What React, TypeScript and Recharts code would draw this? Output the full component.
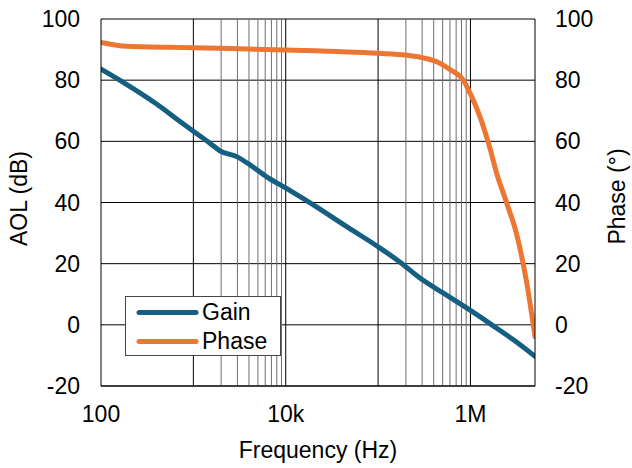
import React from 'react';
import { LineChart, Line, XAxis, YAxis, CartesianGrid, ReferenceLine } from 'recharts';

const FREQ_TICKS = [100, 10000, 1000000];
const FREQ_TICK_LABELS = ['100', '10k', '1M'];
const Y_TICKS = [-20, 0, 20, 40, 60, 80, 100];

const GAIN_FREQ = [100, 174, 400, 717, 1000, 1510, 1940, 2950, 4110, 6230, 10200, 19900, 45800, 105000, 173000, 284000, 500000, 711000, 1000000, 1700000, 2920000, 5000000];
const GAIN_DB = [83.6, 79.3, 72.2, 66.5, 63.3, 59.4, 56.9, 55.0, 52.3, 48.4, 44.6, 39.2, 32.1, 25.1, 20.5, 15.3, 10.5, 7.6, 4.7, 0, -4.9, -10.3];

const PHASE_FREQ = [100, 170, 1000, 10000, 100000, 200000, 310000, 450000, 600000, 837000, 1000000, 1270000, 1630000, 1930000, 2470000, 3170000, 4070000, 5000000];
const PHASE_DEG = [92.3, 91.2, 90.6, 89.9, 88.8, 88.2, 87.3, 85.8, 83.5, 80.0, 75.5, 68.0, 57.6, 49.4, 39.8, 29.5, 13.7, -3.9];

const MAJOR_GRID = [1000, 10000, 100000, 1000000];
const MINOR_GRID = [2000, 3000, 4000, 5000, 6000, 7000, 8000, 9000, 200000, 300000, 400000, 500000, 600000, 700000, 800000, 900000];

const SERIES_NAMES = ['Gain', 'Phase'];
const SERIES_COLORS = ['#155F82', '#EE7633'];

const gainData = GAIN_FREQ.map((f, i) => ({ f, v: GAIN_DB[i] }));
const phaseData = PHASE_FREQ.map((f, i) => ({ f, v: PHASE_DEG[i] }));

const FONT = '"Liberation Sans", Arial, sans-serif';

const AxisTitle = (props: any) => {
  const { viewBox, text, dxc, dyc } = props;
  const cx = viewBox.x + dxc;
  const cy = viewBox.y + viewBox.height / 2 + dyc;
  return (
    <text x={cx} y={cy} transform={`rotate(-90, ${cx}, ${cy})`} textAnchor="middle" dominantBaseline="central" fontSize={23} fontFamily={FONT} fill="#000">
      {text}
    </text>
  );
};

const XTitle = (props: any) => {
  const { viewBox, text } = props;
  const cx = viewBox.x + viewBox.width / 2;
  return (
    <text x={cx} y={viewBox.y + 72} textAnchor="middle" fontSize={23} fontFamily={FONT} fill="#000">
      {text}
    </text>
  );
};

export default function App() {
  const tickStyle = { fontSize: 23, fontFamily: FONT, fill: '#000' };
  return (
    <div style={{ position: 'absolute', left: 0, top: 0, width: 632, height: 468, background: '#fff' }}>
      <LineChart width={632} height={468} margin={{ top: 19, right: 0, bottom: 0, left: 0 }}>
        <CartesianGrid yAxisId="left" vertical={false} stroke="#000" strokeWidth={1} />
        {MINOR_GRID.map((x) => (
          <ReferenceLine key={'m' + x} yAxisId="left" x={x} stroke="#6e6e6e" strokeWidth={1} />
        ))}
        {MAJOR_GRID.map((x) => (
          <ReferenceLine key={'M' + x} yAxisId="left" x={x} stroke="#000" strokeWidth={1} />
        ))}
        <XAxis
          dataKey="f"
          type="number"
          scale="log"
          domain={[100, 5000000]}
          allowDataOverflow
          ticks={FREQ_TICKS}
          tickFormatter={(v: number) => FREQ_TICK_LABELS[FREQ_TICKS.indexOf(v)] ?? ''}
          height={82}
          tickLine={false}
          tickSize={0}
          tickMargin={20}
          axisLine={{ stroke: '#000' }}
          tick={tickStyle}
          interval={0}
          label={<XTitle text="Frequency (Hz)" />}
        />
        <YAxis
          yAxisId="left"
          orientation="left"
          type="number"
          domain={[-20, 100]}
          ticks={Y_TICKS}
          width={101}
          tickLine={false}
          tickSize={0}
          tickMargin={21}
          axisLine={{ stroke: '#000' }}
          tick={tickStyle}
          interval={0}
          label={<AxisTitle text="AOL (dB)" dxc={19} dyc={-4} />}
        />
        <YAxis
          yAxisId="right"
          orientation="right"
          type="number"
          domain={[-20, 100]}
          ticks={Y_TICKS}
          width={97}
          tickLine={false}
          tickSize={0}
          tickMargin={20}
          axisLine={{ stroke: '#000' }}
          tick={tickStyle}
          interval={0}
          label={<AxisTitle text="Phase (°)" dxc={82} dyc={-6} />}
        />
        <Line yAxisId="left" data={gainData} dataKey="v" name={SERIES_NAMES[0]} type="monotone" stroke={SERIES_COLORS[0]} strokeWidth={5} dot={false} isAnimationActive={false} strokeLinecap="round" />
        <Line yAxisId="right" data={phaseData} dataKey="v" name={SERIES_NAMES[1]} type="monotone" stroke={SERIES_COLORS[1]} strokeWidth={5} dot={false} isAnimationActive={false} strokeLinecap="round" />
      </LineChart>
      <div
        style={{
          position: 'absolute',
          left: 125,
          top: 296,
          width: 156,
          height: 60,
          boxSizing: 'border-box',
          border: '1px solid #444',
          background: '#fff',
          fontFamily: FONT,
          fontSize: 23,
          color: '#000',
        }}
      >
        {SERIES_NAMES.map((name, i) => (
          <div key={name} style={{ position: 'absolute', left: 0, top: 1 + i * 29, height: 29, display: 'flex', alignItems: 'center' }}>
            <svg width={76} height={29} style={{ display: 'block' }}>
              <line x1={13} y1={14.5} x2={70} y2={14.5} stroke={SERIES_COLORS[i]} strokeWidth={5} strokeLinecap="round" />
            </svg>
            <span style={{ lineHeight: '29px' }}>{name}</span>
          </div>
        ))}
      </div>
    </div>
  );
}
